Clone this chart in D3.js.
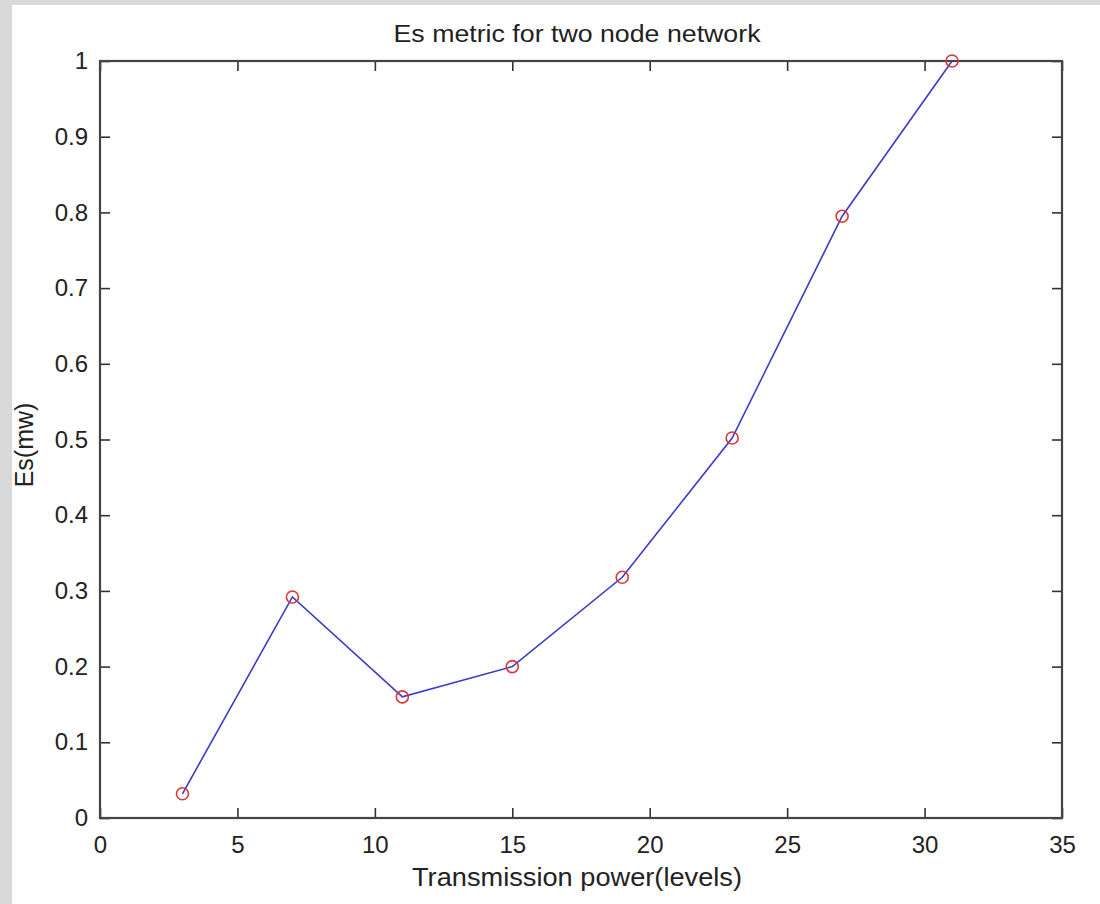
<!DOCTYPE html>
<html>
<head>
<meta charset="utf-8">
<script src="https://cdn.jsdelivr.net/npm/d3@7"></script>
<style>
  body { margin: 0; background: #fff; }
  text { font-family: "Liberation Sans", Arial, sans-serif; fill: #222; }
</style>
</head>
<body>
<div id="chart"></div>
<script>
'use strict';

// data
var powerLevels = [3, 7, 11, 15, 19, 23, 27, 31];
var esValues = [0.032, 0.292, 0.16, 0.2, 0.318, 0.502, 0.795, 1.0];
var xTicks = [0, 5, 10, 15, 20, 25, 30, 35];
var yTicks = [0, 0.1, 0.2, 0.3, 0.4, 0.5, 0.6, 0.7, 0.8, 0.9, 1];

var W = 1100, H = 904;
var plot = { left: 100, top: 61, right: 1062, bottom: 818 };

var svg = d3.select("#chart").append("svg")
    .attr("width", W)
    .attr("height", H);

// grey window edge
svg.append("rect").attr("width", W).attr("height", H).attr("fill", "#fff");
svg.append("rect").attr("width", 12).attr("height", H).attr("fill", "#d9d9d9");
svg.append("rect").attr("width", W).attr("height", 5).attr("fill", "#d9d9d9");

var x = d3.scaleLinear().domain([0, 35]).range([plot.left, plot.right]);
var y = d3.scaleLinear().domain([0, 1]).range([plot.bottom, plot.top]);

function styleAxis(g) {
    g.select(".domain").remove();
    g.selectAll(".tick line").attr("stroke", "#333").attr("stroke-width", 1.6);
    g.selectAll(".tick text").attr("font-size", 24).attr("fill", "#222")
        .attr("font-family", "'Liberation Sans', Arial, sans-serif");
}

// axes, ticks pointing inward
svg.append("g")
    .attr("transform", "translate(0," + plot.bottom + ")")
    .call(d3.axisBottom(x).tickValues(xTicks).tickSize(-10).tickPadding(18).tickFormat(d3.format("d")))
    .call(styleAxis);

svg.append("g")
    .attr("transform", "translate(0," + plot.top + ")")
    .call(d3.axisTop(x).tickValues(xTicks).tickSize(-10).tickFormat(""))
    .call(styleAxis);

svg.append("g")
    .attr("transform", "translate(" + plot.left + ",0)")
    .call(d3.axisLeft(y).tickValues(yTicks).tickSize(-10).tickPadding(12).tickFormat(function(d) { return d3.format("~g")(d); }))
    .call(styleAxis);

svg.append("g")
    .attr("transform", "translate(" + plot.right + ",0)")
    .call(d3.axisRight(y).tickValues(yTicks).tickSize(-10).tickFormat(""))
    .call(styleAxis);

// frame
svg.append("rect")
    .attr("x", plot.left).attr("y", plot.top)
    .attr("width", plot.right - plot.left)
    .attr("height", plot.bottom - plot.top)
    .attr("fill", "none")
    .attr("stroke", "#444")
    .attr("stroke-width", 2.2);

// series
var data = powerLevels.map(function(p, i) { return { p: p, es: esValues[i] }; });

var line = d3.line()
    .x(function(d) { return x(d.p); })
    .y(function(d) { return y(d.es); });

svg.append("path")
    .datum(data)
    .attr("d", line)
    .attr("fill", "none")
    .attr("stroke", "#3a3ac8")
    .attr("stroke-width", 1.6);

svg.selectAll("circle.pt")
    .data(data)
    .enter()
    .append("circle")
    .attr("class", "pt")
    .attr("cx", function(d) { return x(d.p); })
    .attr("cy", function(d) { return y(d.es); })
    .attr("r", 6)
    .attr("fill", "none")
    .attr("stroke", "#d83838")
    .attr("stroke-width", 1.6);

// titles
svg.append("text")
    .attr("x", 577).attr("y", 42)
    .attr("text-anchor", "middle")
    .attr("font-size", 23)
    .attr("textLength", 367)
    .attr("lengthAdjust", "spacingAndGlyphs")
    .text("Es metric for two node network");

svg.append("text")
    .attr("x", 577).attr("y", 886)
    .attr("text-anchor", "middle")
    .attr("font-size", 26)
    .attr("textLength", 330)
    .attr("lengthAdjust", "spacingAndGlyphs")
    .text("Transmission power(levels)");

svg.append("text")
    .attr("transform", "translate(33,445) rotate(-90)")
    .attr("text-anchor", "middle")
    .attr("font-size", 25)
    .text("Es(mw)");
</script>
</body>
</html>
